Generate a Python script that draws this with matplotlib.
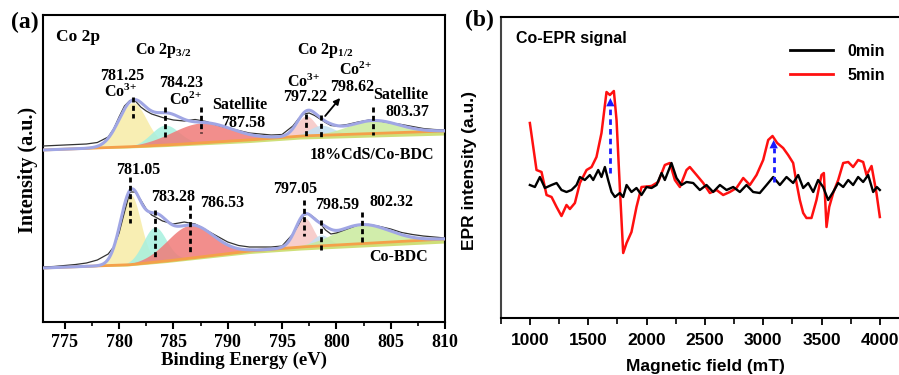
"""Co 2p XPS fits (a) and Co-EPR signal before/after irradiation (b)."""
import numpy as np
import matplotlib

matplotlib.use("Agg")
import matplotlib.pyplot as plt  # noqa: E402
from matplotlib.ticker import MultipleLocator  # noqa: E402

plt.rcParams["mathtext.fontset"] = "custom"
plt.rcParams["mathtext.rm"] = "Liberation Serif:bold"
plt.rcParams["mathtext.it"] = "Liberation Serif:bold"
plt.rcParams["mathtext.bf"] = "Liberation Serif:bold"

SERIF = "Liberation Serif"
SANS = "Liberation Sans"

# ---------------- (a) XPS data ----------------
xps_energy = [773, 774, 775, 776, 777, 778, 779, 779.5, 780, 780.5, 781, 781.5,
              782, 782.5, 783, 784, 785, 786, 787, 788, 789, 790, 791, 792, 793,
              794, 795, 796, 796.5, 797, 797.5, 798, 798.5, 799, 799.5, 800, 801,
              802, 803, 804, 805, 806, 807, 808, 809, 810]
cds_counts = [176, 176.5, 177, 177.5, 178, 179.5, 185, 193, 205, 216, 221.5, 221,
              215, 211, 208, 204.5, 202, 201, 202.5, 200.5, 197, 194, 191.5, 189, 188,
              187, 187.5, 196, 203, 208, 209, 206.5, 203, 199.5, 196.5, 196, 197.5,
              200, 202, 201, 199, 197.5, 195.5, 193.5, 192.5, 192]
cobdc_counts = [55, 55.5, 56.5, 57.5, 59, 62, 68, 75, 89, 110, 130, 130, 122, 113,
                107, 101, 98, 100, 98, 92, 86, 80, 76.5, 75, 75, 75, 76, 88, 97,
                107, 108, 104, 99, 92, 88, 89, 93, 97, 97.5, 95.5, 93, 89.5, 87.5,
                86, 85, 84]

# Shirley-type background anchors (energy, upper line, lower line)
bg_energy = [773, 778, 780.7, 784.4, 792, 796.7, 810]
cds_bg = [172, 174, 175, 177, 182, 186, 191]
cds_bg_low = [172, 173.5, 174, 175.5, 179.5, 183, 187]
cobdc_bg = [54, 56, 57, 61, 71, 75, 83]
cobdc_bg_low = [54, 55.5, 56, 59.5, 68.5, 72, 79]

# fitted components: centre (eV), height above background, FWHM (eV)
peak_colors = ["#f7eca6", "#a6f0df", "#f07a78", "#f6c6c4", "#c2e0f2", "#c9ea9c"]
cds_centers = [781.25, 784.23, 787.58, 797.22, 798.62, 803.37]
cds_heights = [44, 20, 20, 20, 10, 13]
cds_fwhm = [3.0, 3.0, 6.5, 2.0, 2.6, 5.5]
cobdc_centers = [781.05, 783.28, 786.53, 797.05, 798.59, 802.32]
cobdc_heights = [70, 35, 33, 29, 11, 19]
cobdc_fwhm = [2.2, 2.5, 5.0, 1.9, 1.8, 6.0]

cds_labels = ["781.25", "784.23", "787.58", "797.22", "798.62", "803.37"]
cobdc_labels = ["781.05", "783.28", "786.53", "797.05", "798.59", "802.32"]

# ---------------- (b) EPR data ----------------
field_5min = [1000, 1057, 1100, 1143, 1186, 1229, 1271, 1314, 1343, 1386, 1429,
              1486, 1529, 1571, 1614, 1657, 1686, 1720, 1743, 1771, 1800, 1829,
              1871, 1914, 1957, 2043, 2100, 2157, 2200, 2243, 2286, 2343, 2371,
              2429, 2486, 2543, 2600, 2657, 2714, 2771, 2829, 2886, 2943, 3000,
              3043, 3080, 3120, 3171, 3214, 3257, 3286, 3314, 3343, 3371, 3414,
              3457, 3500, 3520, 3543, 3566, 3600, 3643, 3686, 3729, 3771, 3814,
              3857, 3886, 3929, 3971, 4000]
epr_5min = [62, 15, 13, -10, -12, -22, -31, -20, -24, -18, 2,
            15, 18, 28, 52, 93, 90, 94, 65, -2, -68, -58,
            -47, -22, -2, -1, 3, 20, 22, 5, -2, 15, 18,
            10, 2, -8, -5, -10, -7, -3, 7, 0, 10, 25,
            45, 49, 42, 37, 30, 22, 2, -15, -28, -33, -33,
            -15, 10, 12, -42, -22, -8, 5, 22, 23, 18, 25,
            23, 10, 19, -8, -32]
field_0min = [1000, 1043, 1086, 1129, 1186, 1229, 1271, 1314, 1357, 1400, 1429,
              1471, 1514, 1543, 1586, 1614, 1643, 1671, 1700, 1729, 1771, 1800,
              1829, 1871, 1914, 1957, 2000, 2043, 2086, 2129, 2157, 2214, 2257,
              2300, 2343, 2400, 2457, 2514, 2571, 2629, 2686, 2743, 2800, 2857,
              2914, 2971, 3029, 3086, 3143, 3200, 3257, 3300, 3343, 3386, 3429,
              3471, 3514, 3557, 3600, 3643, 3686, 3729, 3771, 3814, 3857, 3900,
              3943, 3974, 4000]
epr_0min = [0, -2, 8, -3, 0, 2, -5, -7, -5, 0, 8,
            5, 10, 5, 15, 8, 18, 5, -7, -12, -8, -12,
            0, -7, -3, -10, -2, -3, 0, 12, 5, 22, 7,
            0, 3, 2, -5, 0, -7, 0, -5, -2, -7, 0,
            -7, -8, 0, 8, 0, 8, 2, 10, -3, 2, -7,
            5, -2, -15, -7, 2, -2, 5, 0, 8, 3, 10,
            -7, -2, -5]
arrow_fields = [1690, 3090]
arrow_from = [12, 3]
arrow_to = [87, 45]


def components(energy, bg_e, bg, centers, heights, fwhm):
    base = np.interp(energy, bg_e, bg)
    comps = []
    for c, h, w in zip(centers, heights, fwhm):
        s = w / 2.3548
        comps.append(h * np.exp(-0.5 * ((energy - c) / s) ** 2))
    return base, comps


def draw_spectrum(ax, data, bg, bg_low, centers, heights, fwhm):
    e = np.linspace(773, 810, 600)
    base, comps = components(e, bg_energy, bg, centers, heights, fwhm)
    low = np.interp(e, bg_energy, bg_low)
    ax.fill_between(e, low, base, color="#cfdf78", lw=0, zorder=1)
    for comp, col in zip(comps, peak_colors):
        ax.fill_between(e, base, base + comp, color=col, alpha=0.85, lw=0, zorder=2)
    ax.plot(e, base, color="#f4a04a", lw=2, zorder=3)
    ax.plot(xps_energy, data, color="#333333", lw=0.9, zorder=4)
    ax.plot(e, base + np.sum(comps, axis=0), color="#a0a6e4", lw=2.2, zorder=5)


fig = plt.figure(figsize=(8.99, 3.75), dpi=100)

# ---------------- panel (a) ----------------
ax1 = fig.add_axes([43 / 899, 53 / 375, 402 / 899, 307 / 375])
draw_spectrum(ax1, cds_counts, cds_bg, cds_bg_low, cds_centers, cds_heights, cds_fwhm)
draw_spectrum(ax1, cobdc_counts, cobdc_bg, cobdc_bg_low, cobdc_centers,
              cobdc_heights, cobdc_fwhm)
ax1.set_xlim(773, 810)
ax1.set_ylim(0, 307)
ax1.set_yticks([])
ax1.xaxis.set_major_locator(MultipleLocator(5))
ax1.xaxis.set_minor_locator(MultipleLocator(2.5))
ax1.tick_params(axis="x", which="major", direction="out", length=5, width=1.5,
                labelsize=13, pad=3.5)
ax1.tick_params(axis="x", which="minor", direction="out", length=3, width=1.2)
for lab in ax1.get_xticklabels():
    lab.set_fontfamily(SERIF)
    lab.set_fontweight("bold")
for sp in ax1.spines.values():
    sp.set_linewidth(1.5)

# dashed peak markers
cds_dash = [(225, 204), (215, 184), (215, 189), (208, 185), (207, 184), (215, 187)]
cobdc_dash = [(145, 99), (112, 62), (117, 69), (122, 86), (102, 70), (110, 79)]
for centers, dash in ((cds_centers, cds_dash), (cobdc_centers, cobdc_dash)):
    for c, (y0, y1) in zip(centers, dash):
        ax1.plot([c, c], [y0, y1], color="black", lw=2, ls=(0, (1.8, 1.2)), zorder=6)

tkw = dict(family=SERIF, weight="bold", fontsize=11.5, ha="center", va="center")
ax1.text(774.2, 285, "Co 2p", family=SERIF, weight="bold", fontsize=12.5,
         ha="left", va="center")
ax1.text(784.05, 272, r"Co 2p$_{3/2}$", **tkw)
ax1.text(798.97, 272, r"Co 2p$_{1/2}$", **tkw)
cds_label_pos = [(780.27, 246), (785.71, 239), (791.42, 199), (797.13, 225),
                 (801.45, 235), (806.52, 210)]
for lab, (x, y) in zip(cds_labels, cds_label_pos):
    ax1.text(x, y, lab, **tkw)
ax1.text(780.09, 230, r"Co$^{3{+}}$", **tkw)
ax1.text(786.08, 222, r"Co$^{2{+}}$", **tkw)
ax1.text(791.14, 217, "Satellite", **tkw)
ax1.text(796.94, 240, r"Co$^{3{+}}$", **tkw)
ax1.text(801.73, 252, r"Co$^{2{+}}$", **tkw)
ax1.text(805.97, 227, "Satellite", **tkw)
ax1.annotate("", xy=(800.35, 224), xytext=(798.97, 206),
             arrowprops=dict(arrowstyle="-|>", color="black", lw=1.3,
                             mutation_scale=9, shrinkA=0, shrinkB=0))
ax1.text(803.3, 167, "18%CdS/Co-BDC", **tkw)
cobdc_label_pos = [(781.75, 152), (784.97, 125), (789.48, 119), (796.2, 133),
                   (800.12, 117), (805.04, 120)]
for lab, (x, y) in zip(cobdc_labels, cobdc_label_pos):
    ax1.text(x, y, lab, **tkw)
ax1.text(805.69, 65, "Co-BDC", **tkw)

fig.text(25 / 899, 1 - 22 / 375, "(a)", family=SERIF, weight="bold", fontsize=17,
         ha="center", va="center")
fig.text(28 / 899, 1 - 170 / 375, "Intensity (a.u.)", family=SERIF, weight="bold",
         fontsize=14.5, rotation=90, ha="center", va="center")
fig.text(244 / 899, 1 - 360 / 375, "Binding Energy (eV)", family=SERIF,
         weight="bold", fontsize=13.5, ha="center", va="center")

# ---------------- panel (b) ----------------
ax2 = fig.add_axes([500.7 / 899, 57 / 375, 408.3 / 899, 301 / 375])
ax2.plot(field_0min, epr_0min, color="black", lw=1.7, label="0min", zorder=3)
ax2.plot(field_5min, epr_5min, color="#ff1010", lw=1.8, label="5min", zorder=2)
for b, y0, y1 in zip(arrow_fields, arrow_from, arrow_to):
    ax2.plot([b, b], [y0, y1 - 8], color="#1a1aff", lw=2, ls=(0, (2, 1.5)), zorder=4)
    ax2.annotate("", xy=(b, y1), xytext=(b, y1 - 10),
                 arrowprops=dict(arrowstyle="-|>", color="#1a1aff", lw=0,
                                 mutation_scale=15, shrinkA=0, shrinkB=0), zorder=5)
ax2.set_xlim(750, 4250)
ax2.set_ylim(-133, 168)
ax2.set_yticks([])
ax2.spines["right"].set_visible(False)
for sp in ("left", "bottom", "top"):
    ax2.spines[sp].set_linewidth(1.5)
ax2.spines["left"].set_color("#444444")
ax2.xaxis.set_minor_locator(MultipleLocator(250))
ax2.set_xticks([1000, 1500, 2000, 2500, 3000, 3500, 4000])
ax2.tick_params(axis="x", which="major", direction="out", length=5, width=1.3,
                labelsize=12.5, pad=6)
ax2.tick_params(axis="x", which="minor", direction="out", length=4, width=1.2)
for lab in ax2.get_xticklabels():
    lab.set_fontfamily(SANS)
    lab.set_fontweight("bold")

fig.text(516 / 899, 1 - 38 / 375, "Co-EPR signal", family=SANS, weight="bold",
         fontsize=11.5, ha="left", va="center")
leg = fig.legend(handles=ax2.get_lines()[:2], loc="upper left",
                 bbox_to_anchor=(790 / 899, 1 - 44 / 375), frameon=False,
                 borderpad=0, borderaxespad=0, handlelength=2.7, handletextpad=0.9,
                 labelspacing=0.55, prop=dict(family=SANS, weight="bold", size=11.5))
for line in leg.get_lines():
    line.set_linewidth(2)

fig.text(479 / 899, 1 - 20 / 375, "(b)", family=SERIF, weight="bold", fontsize=17,
         ha="center", va="center")
fig.text(470 / 899, 1 - 170 / 375, "EPR intensity (a.u.)", family=SANS,
         weight="bold", fontsize=12.5, rotation=90, ha="center", va="center")
fig.text(705 / 899, 1 - 367 / 375, "Magnetic field (mT)", family=SANS,
         weight="bold", fontsize=12.5, ha="center", va="center")

fig.savefig("out.png", dpi=100, facecolor="white")
